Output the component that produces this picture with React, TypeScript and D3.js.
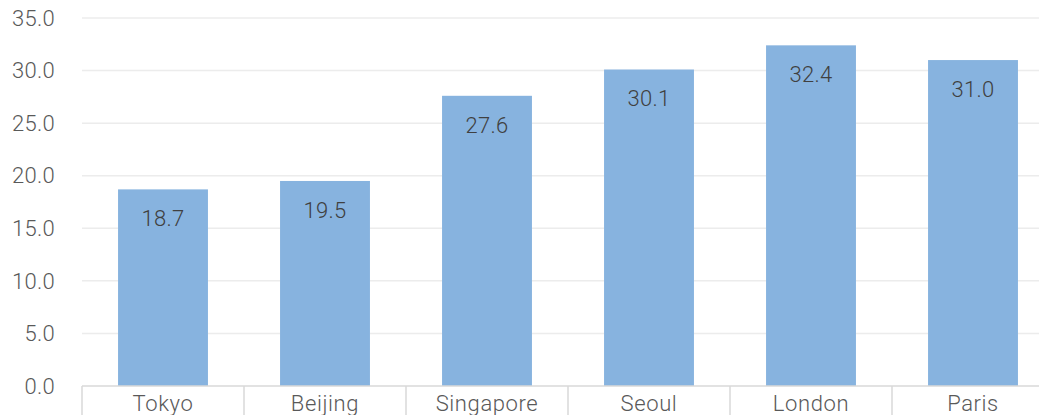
import React from "react";
import * as d3 from "d3";

const categories = ["Tokyo", "Beijing", "Singapore", "Seoul", "London", "Paris"];
const values = [18.7, 19.5, 27.6, 30.1, 32.4, 31.0];
const yTicks = [0, 5, 10, 15, 20, 25, 30, 35];

export default function App() {
  const W = 1039, H = 415;
  const left = 82, bandW = 162;
  const x = d3.scaleBand<string>().domain(categories).range([left, left + bandW * categories.length]).paddingInner(0.445).paddingOuter(0.2225);
  const y = d3.scaleLinear().domain([0, 35]).range([386, 18]);
  const font = "Roboto, 'Noto Sans', sans-serif";
  const boundaries = d3.range(categories.length + 1).map((i) => left + bandW * i);
  const fs = 22;
  return (
    <svg width={W} height={H} style={{ position: "absolute", left: 0, top: 0, background: "#fff" }} fontFamily={font} fontWeight={300}>
      {yTicks.map((t) => (
        <g key={t}>
          {t > 0 && <line x1={left} x2={W} y1={y(t)} y2={y(t)} stroke="#ececec" strokeWidth={1.5} />}
          <text x={55} y={y(t)} dy="0.35em" textAnchor="end" fontSize={fs} fill="#595959" letterSpacing={0.3}>{t.toFixed(1)}</text>
        </g>
      ))}
      {categories.map((c, i) => (
        <g key={c}>
          <rect x={x(c)} y={y(values[i])} width={x.bandwidth()} height={y(0) - y(values[i])} fill="#87B3DF" />
          <text x={(x(c) as number) + x.bandwidth() / 2} y={y(values[i]) + 29} dy="0.35em" textAnchor="middle" fontSize={fs} fill="#404040" letterSpacing={0.3}>{values[i].toFixed(1)}</text>
          <text x={left + bandW * i + bandW / 2} y={403} dy="0.35em" textAnchor="middle" fontSize={fs} fill="#595959" letterSpacing={0.6}>{c}</text>
        </g>
      ))}
      <line x1={left} x2={W} y1={y(0)} y2={y(0)} stroke="#d9d9d9" strokeWidth={1.5} />
      {boundaries.map((b, i) => (
        <line key={i} x1={b} x2={b} y1={y(0)} y2={H} stroke="#d9d9d9" strokeWidth={1.5} />
      ))}
    </svg>
  );
}
